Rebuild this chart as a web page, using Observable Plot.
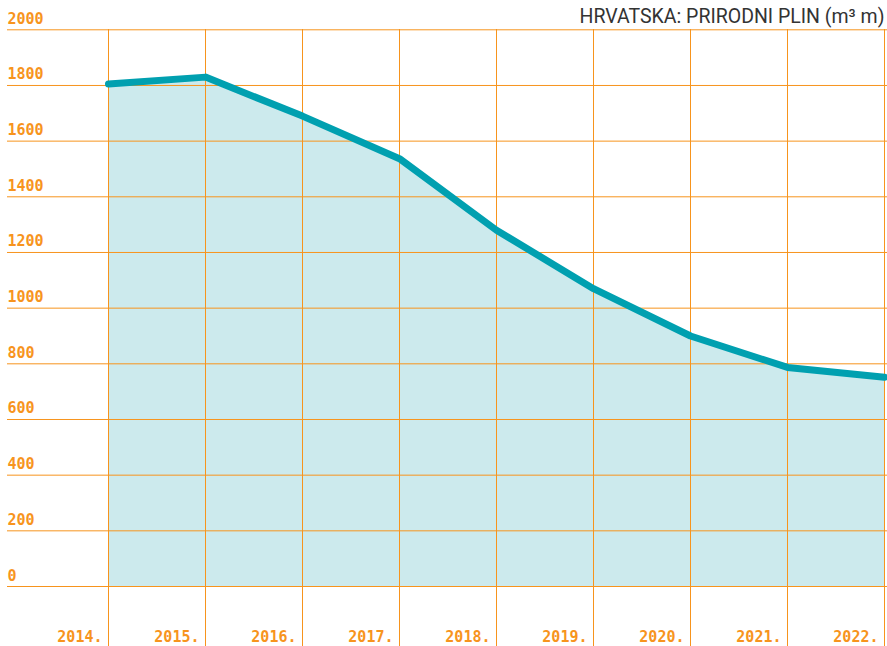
<!DOCTYPE html>
<html>
<head>
<meta charset="utf-8">
<script src="https://cdn.jsdelivr.net/npm/d3@7"></script>
<script src="https://cdn.jsdelivr.net/npm/@observablehq/plot@0.6"></script>
<style>
  html, body { margin: 0; padding: 0; background: #fff; }
  #chart svg { display: block; }
</style>
</head>
<body>
<div id="chart"></div>
<script>
const years = [2014, 2015, 2016, 2017, 2018, 2019, 2020, 2021, 2022];
const values = [1805, 1830, 1690, 1537, 1280, 1070, 900, 787, 752];
const yTicks = [0, 200, 400, 600, 800, 1000, 1200, 1400, 1600, 1800, 2000];
const xLabels = ["2014.", "2015.", "2016.", "2017.", "2018.", "2019.", "2020.", "2021.", "2022."];
const title = "HRVATSKA: PRIRODNI PLIN (m³ m)";

const data = years.map((y, i) => ({year: y, value: values[i], label: xLabels[i]}));

const orange = "#f7941d";
const mono = "'DejaVu Sans Mono', monospace";

const chart = Plot.plot({
  width: 887,
  height: 646,
  marginLeft: 7,
  marginRight: 0,
  marginTop: 29,
  marginBottom: 0,
  x: {domain: [2014, 2022], range: [108, 884], axis: null},
  y: {domain: [0, 2000], range: [586, 29.3], axis: null},
  marks: [
    Plot.areaY(data, {x: "year", y: "value", fill: "#cceaed"}),
    Plot.ruleY(yTicks, {stroke: orange, strokeWidth: 1}),
    Plot.ruleX(years, {stroke: orange, strokeWidth: 1}),
    Plot.line(data, {x: "year", y: "value", stroke: "#00a0b0", strokeWidth: 7, strokeLinecap: "round", strokeLinejoin: "round"}),
    Plot.text(yTicks, {y: d => d, text: d => String(d), frameAnchor: "left", textAnchor: "start", lineAnchor: "bottom", dy: -6, fill: orange, fontFamily: mono, fontWeight: "bold", fontSize: 15}),
    Plot.text(data, {x: "year", text: "label", frameAnchor: "bottom", textAnchor: "end", lineAnchor: "bottom", dx: -6, dy: -5, fill: orange, fontFamily: mono, fontWeight: "bold", fontSize: 15}),
    Plot.text([title], {text: d => d, frameAnchor: "top-right", textAnchor: "end", lineAnchor: "bottom", dx: -3, dy: -7, fill: "#333", fontFamily: "Roboto, sans-serif", fontSize: 19.5})
  ]
});

document.getElementById("chart").appendChild(chart);
</script>
</body>
</html>
